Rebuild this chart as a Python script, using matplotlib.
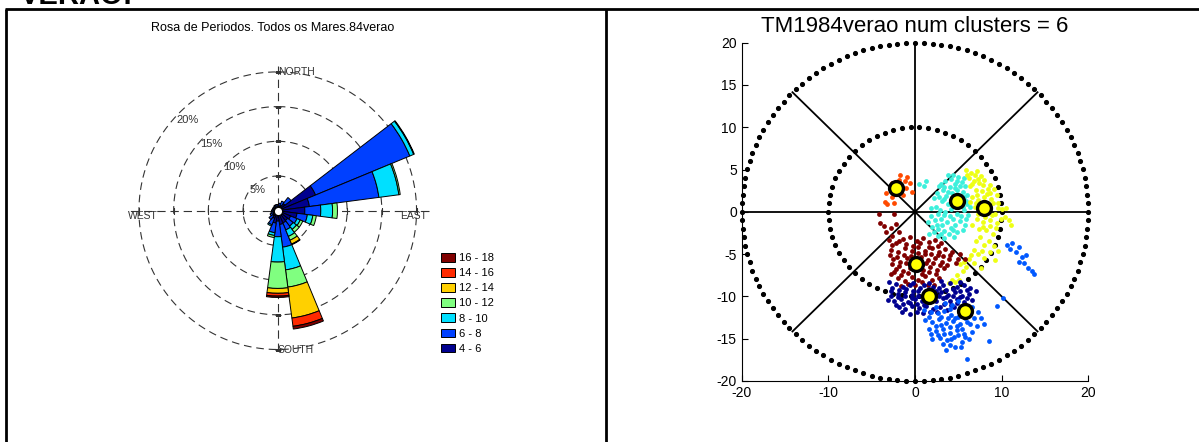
import matplotlib
matplotlib.use("Agg")
import matplotlib.pyplot as plt
import numpy as np
from matplotlib.patches import Patch

plt.rcParams["font.family"] = ["Liberation Sans", "DejaVu Sans"]
plt.rcParams["lines.scale_dashes"] = False
plt.rcParams["axes.unicode_minus"] = False

# --- wave period rose (percent of records per 15 deg sector, by period class) ---
directions = np.arange(0, 360, 15)  # compass degrees, sector centres
period_classes = ["4 - 6", "6 - 8", "8 - 10", "10 - 12", "12 - 14", "14 - 16", "16 - 18"]
class_colors = ["#00008f", "#0040ff", "#00e0ff", "#80ff80", "#ffd000", "#ff2a00", "#800000"]

freq_4_6 = [0.5, 0.6, 0.8, 1.3, 5.9, 4.6, 3.9, 2.8, 2.0, 1.8, 1.9, 2.0,
            1.5, 1.8, 1.2, 0.9, 0.7, 0.6, 0.5, 0.5, 0.5, 0.5, 0.5, 0.5]
freq_6_8 = [0.4, 0.5, 0.7, 1.1, 14.7, 10.1, 2.3, 1.5, 1.0, 1.0, 1.1, 3.3,
            2.25, 1.4, 1.0, 0.7, 0.5, 0.4, 0.4, 0.3, 0.3, 0.3, 0.4, 0.4]
freq_8_10 = [0, 0, 0, 0, 0.6, 2.9, 1.7, 0.8, 0.5, 0.6, 1.0, 3.3,
             3.65, 0.4, 0.2, 0, 0, 0, 0, 0, 0, 0, 0, 0]
freq_10_12 = [0, 0, 0, 0, 0.1, 0.2, 0.7, 0.5, 0.4, 0.5, 0.6, 2.5,
              3.8, 0.3, 0, 0, 0, 0, 0, 0, 0, 0, 0, 0]
freq_12_14 = [0, 0, 0, 0, 0, 0, 0, 0, 0, 0, 0.6, 4.5,
              0.7, 0, 0, 0, 0, 0, 0, 0, 0, 0, 0, 0]
freq_14_16 = [0, 0, 0, 0, 0, 0, 0, 0, 0, 0, 0.1, 1.2,
              0.4, 0, 0, 0, 0, 0, 0, 0, 0, 0, 0, 0]
freq_16_18 = [0, 0, 0, 0, 0, 0, 0, 0, 0, 0, 0, 0.4,
              0.2, 0, 0, 0, 0, 0, 0, 0, 0, 0, 0, 0]
rings = [5, 10, 15, 20]

# --- cluster scatter (TM1984verao) ---
cluster_colors = ["#ff4a00", "#3df0dc", "#eeff14", "#800000", "#000090", "#0058ff"]
orange_x = [-1.7, -0.9, -1.2, -0.6, -1.0, -0.4, -2.9, -3.3, -2.7, -3.5, -2.4, -3.2, -1.4, -1.9, -2.6]
orange_y = [4.4, 4.1, 3.6, 3.4, 2.8, 2.3, 2.8, 2.2, 1.7, 1.2, 1.1, 0.9, 2.0, 3.8, 3.4]
cyan_x = [0.5, 1.3, 1.0, 2.5, 2.8, 3.2, 3.5, 3.8, 4.2, 4.6, 5.0, 5.4, 5.8, 4.0, 3.6, 4.3, 4.9, 5.5,
          6.0, 3.1, 3.8, 4.5, 5.3, 5.9, 6.3, 2.4, 2.9, 3.5, 4.2, 4.8, 5.6, 6.1, 1.8, 2.3, 3.0, 3.7,
          4.4, 5.2, 5.8, 2.0, 2.7, 3.4, 4.1, 4.8, 5.5, 2.6, 3.3, 1.6, 4.5, 5.9, 2.2, 1.8,
          3.0, 3.4, 4.4, 4.8, 5.2, 5.6, 3.8, 4.6, 5.1, 5.7, 2.8, 3.4, 4.1, 5.5, 6.0, 2.7, 3.3,
          4.0, 4.6, 5.3, 2.5, 3.1, 3.9, 2.2, 4.4, 3.0, 1.5]
cyan_y = [3.3, 3.6, 3.0, 2.2, 3.0, 2.6, 3.6, 4.4, 3.9, 3.3, 4.1, 3.5, 3.0, 2.9, 1.9, 2.2, 2.6, 2.3,
          2.0, 1.3, 0.9, 1.6, 1.0, 1.3, 0.6, 0.6, 0.2, 0.0, 0.3, -0.2, 0.2, -0.4, -0.5, -1.0, -0.8, -1.2,
          -0.9, -1.1, -1.6, -1.8, -2.0, -2.3, -1.9, -2.4, -2.2, -2.9, -3.1, -2.6, -3.0, -0.9, 1.6, 0.5,
          3.3, 2.9, 4.3, 3.7, 3.0, 4.0, 2.4, 2.8, 2.0, 1.7, 1.8, 1.5, 1.2, 0.6, 0.9, -0.2, -0.4,
          -0.5, -1.5, -0.5, -1.5, -1.6, -2.6, -2.4, -2.2, -2.6, -1.2]
yellow_x = [5.9, 6.5, 7.1, 7.6, 6.2, 6.8, 7.4, 8.0, 8.6, 9.1, 6.4, 7.0, 7.7, 8.3, 9.5, 6.6, 7.3, 8.0,
            8.8, 9.6, 10.0, 6.9, 7.6, 8.5, 9.2, 10.4, 7.1, 7.9, 8.7, 9.5, 10.8, 11.1, 6.6, 7.4, 8.2,
            9.0, 8.5, 9.1, 7.5, 6.8, 7.3, 8.0, 8.6, 9.2, 6.2, 6.8, 5.9, 5.2, 5.5, 4.8, 4.3, 3.9, 4.6,
            7.6, 5.1,
            6.0, 6.9, 7.3, 6.6, 7.9, 8.4, 7.2, 8.0, 8.7, 9.0, 6.4, 7.0, 8.3, 9.6, 7.3, 8.1, 8.9,
            9.9, 10.5, 7.8, 8.6, 9.4, 7.0, 8.0, 7.7, 6.5, 5.6, 9.6]
yellow_y = [4.9, 4.6, 4.8, 4.2, 4.0, 3.7, 3.4, 3.8, 3.2, 2.7, 3.0, 2.6, 2.5, 2.1, 2.0, 1.8, 1.4, 1.2,
            1.5, 1.0, 0.3, 0.6, 0.0, 0.5, -0.2, -0.6, -0.8, -1.2, -1.0, -1.3, -1.0, -1.6, -1.5, -2.0,
            -2.2, -2.6, -3.5, -4.0, -3.0, -4.5, -5.0, -5.5, -4.8, -5.7, -5.6, -6.0, -6.5, -6.2, -7.0,
            -7.5, -8.0, -8.4, -8.3, -6.6, -8.0,
            4.4, 4.3, 3.9, 3.3, 3.2, 2.7, 2.0, 1.8, 2.2, 1.0, 1.2, 1.0, 0.2, 0.4, -0.3, -0.6, -0.4,
            -0.8, 0.5, -1.8, -1.7, -1.9, -3.4, -3.9, -4.6, -5.1, -5.9, -4.6]
darkred_x = [-4.2, -2.4, -2.2, -4.0, -3.4, -2.6, -1.8, -3.0, -2.2, -1.4, -0.6, 0.2, 0.9, 1.6, 2.3,
             -2.8, -2.0, -1.2, -0.4, 0.4, 1.2, 2.0, 2.8, 3.5, 4.3, 5.2, 5.8, -2.5, -1.7, -0.9, -0.1,
             0.7, 1.5, 2.3, 3.1, 3.9, 4.7, -2.2, -1.4, -0.6, 0.9, 1.7, 2.5, 3.3, -2.0, -1.2, -0.4,
             0.4, 1.2, 2.0, 2.8, -1.6, 0.0, 1.5, -2.8,
             -2.6, -1.8, -1.0, -0.2, 0.6, 1.6, 2.6, 3.2, 4.0, -2.9, -2.1, -1.3, -0.5, 0.3, 1.1, 1.9,
             2.7, -2.6, -1.8, -1.0, 0.5, 1.3, 2.1, 2.9, 3.7, -2.4, -1.6, -0.8, 0.8, 1.6, 2.4, -0.8,
             0.8, 2.2, -3.6, -2.8, 3.0, 5.0]
darkred_y = [-0.3, -0.2, -1.4, -1.3, -2.4, -2.8, -2.4, -3.3, -3.7, -3.2, -3.0, -3.4, -3.1, -3.6, -3.3,
             -4.5, -4.8, -4.3, -4.6, -4.2, -4.6, -4.3, -4.7, -4.4, -4.8, -5.0, -5.6, -5.6, -5.9, -5.4,
             -5.7, -5.3, -5.7, -5.5, -5.9, -5.6, -6.0, -6.7, -7.0, -6.6, -6.9, -6.5, -6.9, -6.6, -7.8,
             -8.2, -7.7, -8.0, -7.6, -8.1, -7.8, -8.8, -8.6, -8.7, -7.3,
             -3.9, -3.5, -3.8, -4.0, -3.7, -4.1, -4.0, -5.2, -5.1, -5.1, -5.3, -5.1, -5.2, -4.9, -5.0,
             -5.0, -5.1, -6.2, -6.4, -6.1, -6.3, -6.1, -6.1, -6.3, -6.3, -7.1, -7.5, -7.2, -7.4, -7.1,
             -7.4, -8.5, -8.3, -8.6, -1.7, -1.9, -3.7, -5.6]
navy_x = [-3.0, -2.2, -1.4, -0.6, 3.2, 4.0, 4.8, 5.6, 6.4, 7.0, -2.8, -2.0, -1.2, -0.4, 0.4, 1.2,
          2.4, 3.0, 3.8, 4.6, 5.4, 6.2, -3.1, -2.4, -1.6, -0.8, 0.0, 0.8, 2.4, 3.2, 4.0, 4.8, 5.6,
          6.6, -1.9, -1.1, -0.3, 0.5, 1.3, 2.1, 2.9, 3.7, 4.5, 0.9, -0.6, 1.0, 2.1, 6.0,
          -2.6, -1.8, -1.0, -0.2, 0.6, 1.6, 2.8, 3.6, 4.4, 5.2, 6.0, -2.8, -2.0, -1.2, -0.4, 0.4,
          2.8, 3.6, 4.4, 5.2, 6.0, -2.2, -1.4, -0.6, 0.2, 1.0, 3.3, 4.1, 4.9, 1.7, 2.5, 0.2, -1.5,
          3.0, 5.2, -0.2, 1.6]
navy_y = [-8.3, -8.5, -8.9, -8.7, -8.6, -8.4, -8.9, -8.6, -9.0, -9.4, -9.4, -9.7, -9.5, -9.8, -9.4,
          -9.6, -9.3, -9.5, -9.8, -9.5, -9.9, -9.7, -10.4, -10.6, -10.3, -10.7, -10.3, -10.6, -10.5,
          -10.2, -10.6, -10.3, -10.7, -10.4, -11.2, -11.5, -11.1, -11.4, -11.1, -11.5, -11.2, -11.6,
          -11.3, -12.0, -12.1, -8.7, -8.9, -11.2,
          -9.0, -9.2, -9.1, -9.3, -9.0, -9.1, -9.0, -9.2, -9.1, -9.3, -9.2, -10.0, -10.1, -10.0,
          -10.2, -10.0, -10.0, -10.1, -10.0, -10.1, -10.2, -11.0, -10.9, -10.8, -10.9, -11.0, -10.9,
          -11.0, -10.8, -11.8, -11.9, -11.8, -11.8, -8.2, -8.3, -8.4, -8.4]
blue_x = [3.5, 4.3, 5.0, 6.6, 7.3, 1.0, 1.8, 2.6, 3.4, 4.2, 5.0, 6.8, 1.2, 2.0, 2.8, 3.6, 4.4, 5.2,
          6.0, 7.2, 8.0, 1.6, 2.4, 3.2, 4.0, 4.8, 5.6, 2.0, 2.9, 3.7, 4.5, 5.4, 6.2, 3.6, 6.0, 5.3,
          9.5, 10.2, 8.5, 10.6, 11.2, 11.0, 11.6, 12.0, 12.3, 12.0, 12.6, 13.0, 13.5, 12.8, 13.7,
          2.4, 4.0, 5.6, 6.2, 1.6, 3.0, 3.8, 4.6, 5.8, 6.4, 2.4, 3.0, 4.0, 4.8, 5.4, 6.6, 1.8, 2.6,
          3.4, 4.2, 5.0, 5.8, 3.2, 4.0, 7.6, 4.6]
blue_y = [-10.8, -11.0, -10.6, -11.3, -11.8, -11.6, -11.9, -12.0, -11.7, -12.2, -12.4, -12.6, -12.8,
          -13.0, -12.7, -13.1, -12.9, -13.3, -13.0, -13.5, -13.3, -13.9, -14.1, -13.8, -14.3, -14.0,
          -14.4, -15.0, -14.9, -15.1, -14.8, -15.4, -15.0, -16.3, -17.4, -16.0, -11.1, -10.2, -15.3,
          -3.9, -3.7, -4.4, -4.8, -4.2, -5.3, -5.9, -6.0, -6.6, -7.0, -5.1, -7.3,
          -11.3, -11.5, -11.0, -11.9, -12.4, -12.4, -12.5, -12.6, -12.5, -13.3, -13.5, -13.4, -13.6,
          -13.5, -13.8, -14.2, -14.5, -14.6, -14.5, -15.0, -14.6, -14.8, -15.6, -15.7, -12.5, -16.0]
centroid_x = [-2.2, 4.9, 8.0, 0.1, 1.65, 5.8]
centroid_y = [2.85, 1.25, 0.4, -6.2, -9.9, -11.7]

W, H = 1199, 442
fig = plt.figure(figsize=(W / 100, H / 100), dpi=100)

# page frame of the two-panel table
frame = fig.add_axes([0, 0, 1, 1], zorder=-1)
frame.set_xlim(0, W)
frame.set_ylim(H, 0)
frame.axis("off")
frame.plot([5, W], [9, 9], color="black", lw=2.0, solid_capstyle="butt")
frame.plot([6, 6], [9, H], color="black", lw=2.0, solid_capstyle="butt")
frame.plot([606, 606], [9, H], color="black", lw=2.0, solid_capstyle="butt")
fig.text(20 / W, 1 - 4 / H, "VERAO:", fontsize=21, fontweight="bold", ha="left", va="baseline")

# ---------------- left panel: rose ----------------
ax = fig.add_axes([0.1043, 0.1778, 0.2547, 0.691], projection="polar")
ax.set_theta_zero_location("N")
ax.set_theta_direction(-1)
ax.set_rlim(0, 22)
ax.grid(False)
ax.set_xticks([])
ax.set_yticks([])
ax.spines["polar"].set_visible(False)
ax.patch.set_alpha(0)

grid_color = "#333333"
circle = np.linspace(0, 2 * np.pi, 361)
for r in rings:
    ax.plot(circle, np.full_like(circle, r), color=grid_color, lw=0.8, dashes=(5.5, 3.5), zorder=1)
ax.plot([np.pi / 2, 3 * np.pi / 2], [21.8, 21.8], color=grid_color, lw=0.8, dashes=(6, 3.5), zorder=1)
ax.plot([0, np.pi], [20.8, 20.8], color=grid_color, lw=0.8, dashes=(6, 3.5), zorder=1)
for ang in [0, np.pi]:
    ax.plot([ang] * len(rings), rings, ls="none", marker="_", ms=5, mew=0.8, color=grid_color, zorder=1)
for ang in [np.pi / 2, 3 * np.pi / 2]:
    ax.plot([ang] * len(rings), rings, ls="none", marker="|", ms=5, mew=0.8, color=grid_color, zorder=1)

theta = np.deg2rad(directions)
width = np.deg2rad(15)
bottom = np.zeros(len(directions))
class_freqs = [freq_4_6, freq_6_8, freq_8_10, freq_10_12, freq_12_14, freq_14_16, freq_16_18]
for freq, col in zip(class_freqs, class_colors):
    freq = np.asarray(freq, dtype=float)
    m = freq > 0
    ax.bar(theta[m], freq[m], width=width, bottom=bottom[m], color=col,
           edgecolor="black", linewidth=0.7, zorder=2)
    bottom += freq
ax.plot([0], [0], marker="o", ms=6, mfc="white", mec="black", mew=0.9, zorder=5)

for r in rings:
    ax.text(np.deg2rad(315), 0.95 * r - 0.6, f"{r}%", fontsize=8, color=grid_color,
            ha="center", va="center", zorder=3)
ax.text(0, 20, "NORTH", fontsize=7.5, color=grid_color, ha="left", va="center", zorder=3)
ax.text(np.pi, 20, "SOUTH", fontsize=7.5, color=grid_color, ha="left", va="center", zorder=3)
ax.text(3 * np.pi / 2, 21.6, "WEST", fontsize=7.5, color=grid_color, ha="left", va="top", zorder=3)
ax.text(np.pi / 2, 21.5, "EAST", fontsize=7.5, color=grid_color, ha="right", va="top", zorder=3)

fig.text(273 / W, 1 - 28 / H, "Rosa de Periodos. Todos os Mares.84verao",
         fontsize=9, ha="center", va="center")

handles = [Patch(facecolor=c, edgecolor="black", linewidth=0.7) for c in class_colors[::-1]]
fig.legend(handles, period_classes[::-1], loc="upper left",
           bbox_to_anchor=(441 / W, 1 - 253 / H), frameon=False, fontsize=8,
           handlelength=1.26, handleheight=0.8, handletextpad=0.4, labelspacing=0.45,
           borderpad=0, borderaxespad=0)

# ---------------- right panel: clusters ----------------
bx = fig.add_axes([741.7 / W, 61 / H, 346.6 / W, 338.3 / H])
bx.set_xlim(-20, 20)
bx.set_ylim(-20, 20)
for s in ["top", "right"]:
    bx.spines[s].set_visible(False)
bx.spines["left"].set_linewidth(0.8)
bx.spines["bottom"].set_linewidth(0.8)
bx.set_xticks([-20, -10, 0, 10, 20])
bx.set_yticks([-20, -15, -10, -5, 0, 5, 10, 15, 20])
bx.tick_params(direction="in", length=4, width=0.8, labelsize=10, colors="black")
bx.set_title("TM1984verao num clusters = 6", fontsize=16, pad=8)

for r, n in [(10, 62), (20, 124)]:
    a = np.linspace(0, 2 * np.pi, n, endpoint=False)
    bx.plot(r * np.cos(a), r * np.sin(a), ls="none", marker="o", ms=2.7,
            color="black", clip_on=False, zorder=1)
diag = 20 / np.sqrt(2)
bx.plot([-20, 20], [0, 0], color="black", lw=1.3, zorder=1)
bx.plot([0, 0], [-20, 20], color="black", lw=1.3, zorder=1)
bx.plot([-diag, diag], [-diag, diag], color="black", lw=1.3, zorder=1)
bx.plot([-diag, diag], [diag, -diag], color="black", lw=1.3, zorder=1)

clusters = [(orange_x, orange_y), (cyan_x, cyan_y), (yellow_x, yellow_y),
            (darkred_x, darkred_y), (navy_x, navy_y), (blue_x, blue_y)]
for (cx, cy), col in zip(clusters, cluster_colors):
    bx.scatter(cx, cy, s=12, color=col, linewidths=0, zorder=2)
bx.plot(centroid_x, centroid_y, ls="none", marker="o", ms=10, mfc="#ffff00",
        mec="black", mew=2.4, zorder=4)

fig.savefig("out.png", dpi=100)
